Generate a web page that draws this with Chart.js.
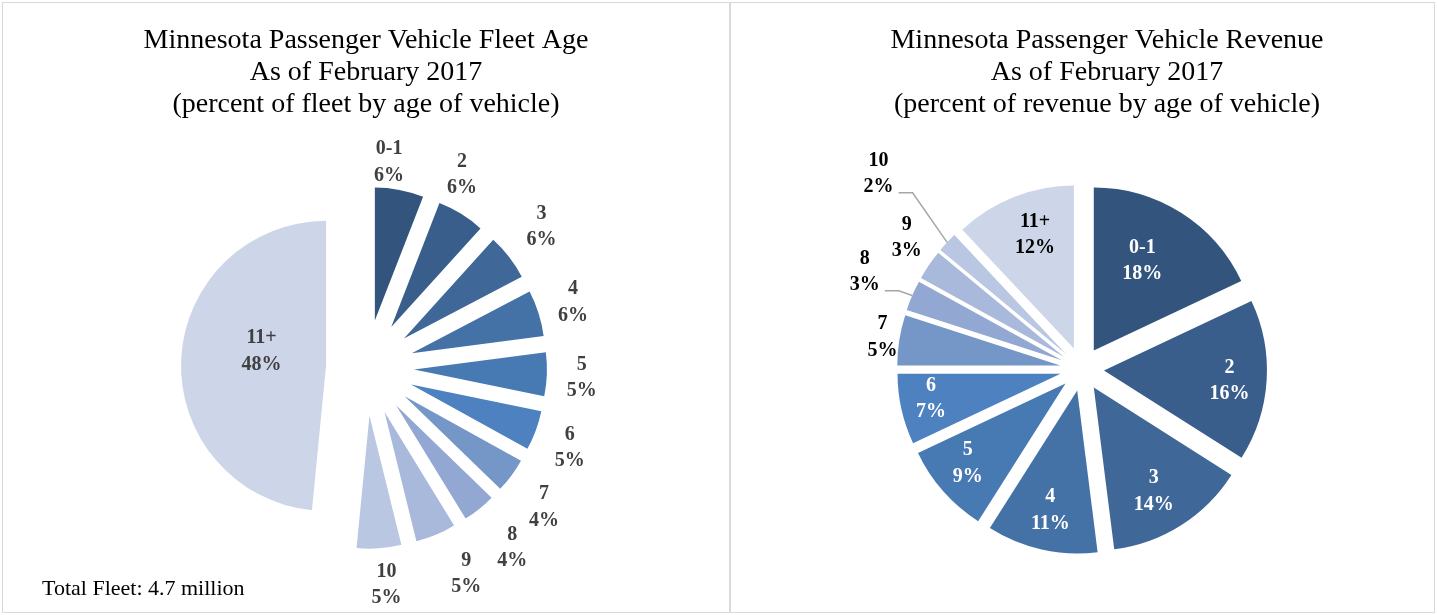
<!DOCTYPE html>
<html><head><meta charset="utf-8">
<script src="https://cdn.jsdelivr.net/npm/chart.js@4.4.1/dist/chart.umd.min.js"></script>
<style>
html,body{margin:0;padding:0;background:#fff;}
body{width:1437px;height:615px;position:relative;overflow:hidden;}
.panel{position:absolute;top:2px;border:1px solid #d9d9d9;height:609px;background:#fff;}
#p1{left:2px;width:726px;}
#p2{left:730px;width:703px;}
canvas{display:block;}
</style></head><body>
<div class="panel" id="p1"><canvas id="c1" width="726" height="609"></canvas></div>
<div class="panel" id="p2"><canvas id="c2" width="703" height="609"></canvas></div>
<script>
// ---------- data ----------
const ageCategories = ['0-1', '2', '3', '4', '5', '6', '7', '8', '9', '10', '11+'];
const fleetShare = [5.9, 5.8, 5.6, 5.6, 5.3, 4.8, 4.2, 4.0, 4.9, 5.4, 48.4];
const revenueShare = [18, 16, 14, 11, 9, 7, 5, 3, 3, 2, 12];
const fleetTitle = ['Minnesota Passenger Vehicle Fleet Age', 'As of February 2017', '(percent of fleet by age of vehicle)'];
const revenueTitle = ['Minnesota Passenger Vehicle Revenue', 'As of February 2017', '(percent of revenue by age of vehicle)'];
const fleetNote = 'Total Fleet: 4.7 million';

// ---------- styles ----------
const sliceColors = ['#33557D', '#3A5E8C', '#3F6899', '#4472A7', '#477AB3', '#4D81BF',
                     '#7597C8', '#92A8D2', '#A8B9DB', '#BAC7E2', '#CDD6E8'];
const fleetExplode = [192, 192, 192, 192, 192, 192, 192, 192, 192, 192, 160];
const fleetExtraRadius = [0, 0, 0, 0, 0, 0, 0, 0, 0, 0, 12];
const fleetLabelDist = [159, 168, 177, 169, 168, 171, 178, 184, 181, 170, 66];
const fleetLabelTurn = [-5.5, -6.8, -1.3, 0, 0.8, 1.5, 2, -0.4, -4.1, -1.6, 9.7];
const fleetLabelColor = Array(11).fill('#404040');

const revExplode = Array(11).fill(88);
const revLabelDist = [102, 126, 120, 123, 126, 132, 180, 216, 197, 260, 120];
const revLabelTurn = [-4, 1.2, 2.4, 0, 2.2, 1.6, 0, 0.8, 2.9, 0.7, 2.7];
const revLabelColor = ['#fff', '#fff', '#fff', '#fff', '#fff', '#fff', '#000', '#000', '#000', '#000', '#000'];
const revLeader = [0, 0, 0, 0, 0, 0, 0, 1, 0, 1, 0];

const SERIF = "'Liberation Serif', 'Times New Roman', serif";

// Excel-like exploded pie: pure translation of each slice (no radius / angle shrink),
// each slice keeps its own radius, and two-line labels are drawn around it.
const excelPie = {
  id: 'excelPie',
  beforeDatasetsDraw(chart, args, opts) {
    const meta = chart.getDatasetMeta(0);
    const base = meta.controller.outerRadius;
    meta.data.forEach((arc, i) => {
      arc.outerRadius = base + ((opts.extraRadius || [])[i] || 0);
      // neutralise Chart.js' offset radius/angle correction (fix = 1 - sin(circumference))
      arc.circumference = Math.PI / 2;
    });
  },
  afterDatasetsDraw(chart, args, opts) {
    const ctx = chart.ctx;
    const meta = chart.getDatasetMeta(0);
    const base = meta.controller.outerRadius;
    const data = chart.data.datasets[0].data;
    const lh = opts.lineHeight;
    ctx.save();
    ctx.font = opts.font;
    ctx.textAlign = 'center';
    ctx.textBaseline = 'middle';
    meta.data.forEach((arc, i) => {
      const off = (arc.options.offset || 0) / 4;
      const mid = (arc.startAngle + arc.endAngle) / 2;
      const ax = arc.x + Math.cos(mid) * off;
      const ay = arc.y + Math.sin(mid) * off;
      const ang = mid + (opts.turn[i] || 0) * Math.PI / 180;
      const lx = ax + Math.cos(ang) * opts.dist[i];
      const ly = ay + Math.sin(ang) * opts.dist[i];
      const lines = [chart.data.labels[i], Math.round(data[i]) + '%'];
      if (opts.leader && opts.leader[i]) {
        const r = base + ((opts.extraRadius || [])[i] || 0);
        const ex = ax + Math.cos(mid) * r;
        const ey = ay + Math.sin(mid) * r;
        const w2 = ctx.measureText(lines[1]).width / 2;
        const sx = lx + w2 + 5, sy = ly + lh * 0.72;
        ctx.beginPath();
        ctx.moveTo(sx, sy);
        ctx.lineTo(sx + 14, sy);
        ctx.lineTo(ex, ey);
        ctx.strokeStyle = '#a6a6a6';
        ctx.lineWidth = 1.5;
        ctx.stroke();
      }
      ctx.fillStyle = opts.color[i];
      ctx.fillText(lines[0], lx, ly - lh / 2);
      ctx.fillText(lines[1], lx, ly + lh / 2);
    });
    ctx.restore();
  }
};

function titleOpts(text, padBottom) {
  return {
    display: true, text: text, color: '#000',
    font: { family: SERIF, size: 28, weight: 'normal', lineHeight: '32px' },
    padding: { top: 22, bottom: padBottom }
  };
}

new Chart(document.getElementById('c1'), {
  type: 'pie',
  data: {
    labels: ageCategories,
    datasets: [{
      data: fleetShare,
      backgroundColor: sliceColors,
      borderWidth: 0,
      offset: fleetExplode,
      radius: 133
    }]
  },
  options: {
    responsive: false,
    animation: false,
    events: [],
    layout: { padding: { left: 39, right: 39, top: 0, bottom: 0 } },
    plugins: {
      legend: { display: false },
      tooltip: { enabled: false },
      title: titleOpts(fleetTitle, 39),
      subtitle: {
        display: true, position: 'bottom', align: 'start', text: fleetNote, color: '#000',
        font: { family: SERIF, size: 22, weight: 'normal', lineHeight: 1.2 },
        padding: { top: 0, bottom: 10 }
      },
      excelPie: {
        extraRadius: fleetExtraRadius, dist: fleetLabelDist, turn: fleetLabelTurn,
        color: fleetLabelColor, font: "bold 20px " + SERIF, lineHeight: 26.5
      }
    }
  },
  plugins: [excelPie]
});

new Chart(document.getElementById('c2'), {
  type: 'pie',
  data: {
    labels: ageCategories,
    datasets: [{
      data: revenueShare,
      backgroundColor: sliceColors,
      borderWidth: 0,
      offset: revExplode,
      radius: 163
    }]
  },
  options: {
    responsive: false,
    animation: false,
    events: [],
    layout: { padding: { left: 49, right: 0, top: 0, bottom: 0 } },
    plugins: {
      legend: { display: false },
      tooltip: { enabled: false },
      title: titleOpts(revenueTitle, 5),
      subtitle: {
        display: true, position: 'right', text: '',
        font: { family: SERIF, size: 50, lineHeight: 1 },
        padding: { top: 0, bottom: 0 }
      },
      excelPie: {
        extraRadius: [], dist: revLabelDist, turn: revLabelTurn, leader: revLeader,
        color: revLabelColor, font: "bold 20px " + SERIF, lineHeight: 26.5
      }
    }
  },
  plugins: [excelPie]
});
</script>
</body></html>
